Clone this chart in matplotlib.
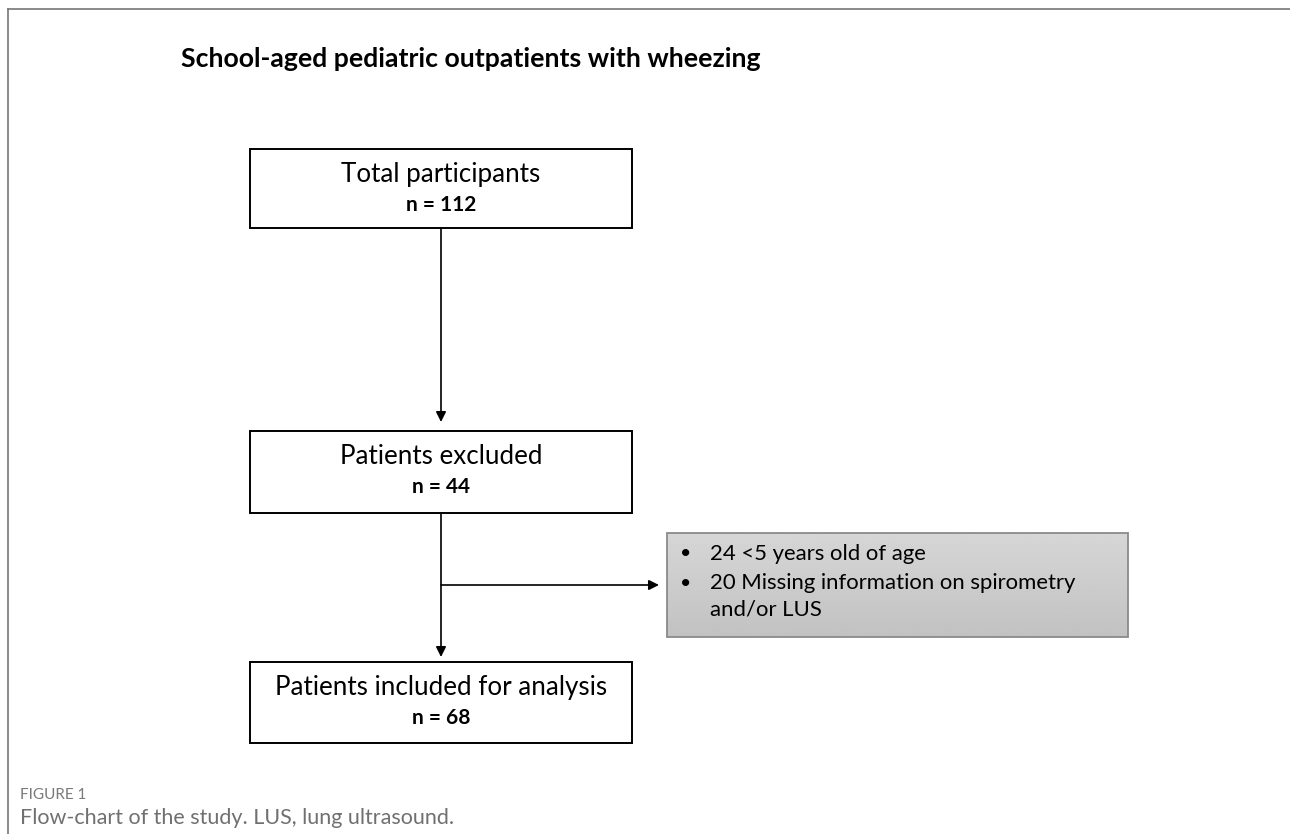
import matplotlib
matplotlib.use("Agg")
import matplotlib.pyplot as plt
from matplotlib.patches import Rectangle, FancyArrowPatch
import numpy as np

plt.rcParams['font.family'] = ['Lato', 'DejaVu Sans']

# ---- content ----
title = "School-aged pediatric outpatients with wheezing"
box_labels = ["Total participants", "Patients excluded", "Patients included for analysis"]
box_counts = [112, 44, 68]
exclusion_items = ["24 <5 years old of age", "20 Missing information on spirometry", "and/or LUS"]
exclusion_bullets = [True, True, False]
caption_head = "FIGURE 1"
caption_text = "Flow-chart of the study. LUS, lung ultrasound."

W, H = 1290, 834
fig = plt.figure(figsize=(W / 100, H / 100), dpi=100)
ax = fig.add_axes([0, 0, 1, 1])
ax.set_xlim(0, W)
ax.set_ylim(H, 0)
ax.axis('off')

# outer frame (top and left)
ax.plot([8, W], [9, 9], color='#777777', lw=1.2)
ax.plot([8, 8], [9, H], color='#777777', lw=1.2)

ax.text(181, 59, title, fontsize=19.2, fontweight='bold', ha='left', va='center', color='black')

# main boxes (layout)
box_x0, box_x1 = 250, 632
box_y = [(149, 228), (431, 513), (662, 743)]
cx = (box_x0 + box_x1) / 2
for (y0, y1), lab, n in zip(box_y, box_labels, box_counts):
    ax.add_patch(Rectangle((box_x0, y0), box_x1 - box_x0, y1 - y0, facecolor='white',
                           edgecolor='black', lw=1.4, zorder=2))
    ax.text(cx, y0 + 25, lab, fontsize=18.7, ha='center', va='center', zorder=3)
    ax.text(cx, y0 + 56, f"n = {n}", fontsize=15, fontweight='bold',
            ha='center', va='center', zorder=3)

def arrow(p0, p1):
    ax.add_patch(FancyArrowPatch(p0, p1, arrowstyle='-|>', mutation_scale=15,
                                 color='black', lw=1.2, shrinkA=0, shrinkB=0, zorder=1))

arrow((cx, box_y[0][1]), (cx, box_y[1][0] - 9))
arrow((cx, box_y[1][1]), (cx, box_y[2][0] - 5))
branch_y = 585
side_x0, side_x1, side_y0, side_y1 = 667, 1128, 533, 637
arrow((cx, branch_y), (side_x0 - 8, branch_y))

# side box with gray gradient
grad = np.linspace(0.84, 0.76, 100).reshape(-1, 1)
im = ax.imshow(np.repeat(grad, 2, axis=1), cmap='gray', vmin=0, vmax=1, aspect='auto',
               extent=(side_x0, side_x1, side_y1, side_y0), zorder=2)
rect = Rectangle((side_x0, side_y0), side_x1 - side_x0, side_y1 - side_y0, facecolor='none',
                 edgecolor='#8a8a8a', lw=1.3, zorder=3)
ax.add_patch(rect)
im.set_clip_path(rect)

line_ys = [554, 583, 609]
for y, item, b in zip(line_ys, exclusion_items, exclusion_bullets):
    if b:
        ax.text(686, y, "•", fontsize=14, ha='center', va='center', zorder=4)
    ax.text(710, y, item, fontsize=15.9, ha='left', va='center', zorder=4)

ax.text(20, 795, caption_head, fontsize=11, color='#7a7a7a', ha='left', va='center')
ax.text(20, 818, caption_text, fontsize=15.5, color='#707070', ha='left', va='center')

fig.savefig("out.png", dpi=100)
